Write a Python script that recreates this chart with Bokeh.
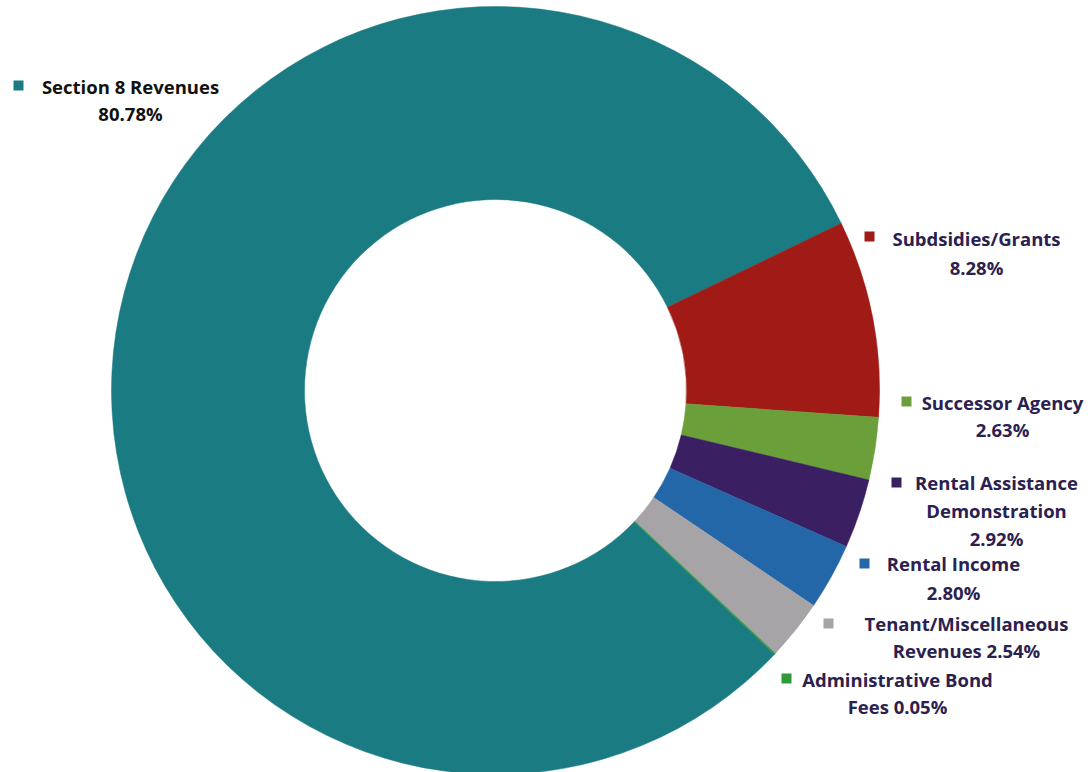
import math
from bokeh.plotting import figure
from bokeh.models import Range1d, ColumnDataSource
from bokeh.core.properties import value
from bokeh.embed import file_html
from bokeh.resources import INLINE

# ---- data ----
categories = ["Section 8 Revenues", "Subsdsidies/Grants", "Successor Agency",
              "Rental Assistance Demonstration", "Rental Income",
              "Tenant/Miscellaneous Revenues", "Administrative Bond Fees"]
shares = [80.78, 8.28, 2.63, 2.92, 2.80, 2.54, 0.05]
colors = ["#1b7b82", "#a01a16", "#6a9f3a", "#3a1f63", "#2467a8", "#a6a4a6", "#2e9a3a"]
label_lines = [
    ["Section 8 Revenues", "80.78%"],
    ["Subdsidies/Grants", "8.28%"],
    ["Successor Agency", "2.63%"],
    ["Rental Assistance", "Demonstration", "2.92%"],
    ["Rental Income", "2.80%"],
    ["Tenant/Miscellaneous", "Revenues 2.54%"],
    ["Administrative Bond", "Fees 0.05%"],
]

# ---- layout (pixel-like coordinates) ----
W, H = 1088, 772
cx, cy = 495, 390
r_out, r_in = 384, 191
subsidies_start_deg = 25.8

# label anchors: marker (x, y), text center x, first line y, line spacing
label_pos = [
    (18, 85, 130, 86, 27),
    (869, 236, 976, 238, 29),
    (906, 401, 1002, 402, 27),
    (896, 482, 996, 482, 28),
    (864, 563, 953, 563, 29),
    (828, 623, 966, 623, 27),
    (786, 678, 897, 679, 27),
]
text_colors = ["#111111"] + ["#2b2150"] * 6

p = figure(width=W, height=H, x_range=Range1d(0, W), y_range=Range1d(H, 0),
           output_backend="svg", toolbar_location=None, min_border=0)
p.axis.visible = False
p.grid.visible = False
p.outline_line_color = None
p.background_fill_color = "white"
p.border_fill_color = "white"

total = sum(shares)
angles = [s / total * 2 * math.pi for s in shares]
# clockwise; Section 8 ends where Subsidies starts
start0 = math.radians(subsidies_start_deg) + angles[0]
starts, ends = [], []
cur = start0
for a in angles:
    starts.append(cur)
    ends.append(cur - a)
    cur -= a

src = ColumnDataSource(dict(start=starts, end=ends, color=colors))
p.annular_wedge(x=cx, y=cy, inner_radius=r_in, outer_radius=r_out,
                start_angle="start", end_angle="end", direction="clock",
                fill_color="color", line_color="color", line_width=0.5,
                source=src)

# labels
for i, lines in enumerate(label_lines):
    mx, my, tx, ty, dy = label_pos[i]
    p.scatter([mx], [my], marker="square", size=10, fill_color=colors[i],
              line_color=None)
    xs = [tx] * len(lines)
    ys = [ty + k * dy for k in range(len(lines))]
    p.text(xs, ys, text=lines, text_font=value("Open Sans"), text_font_style="bold",
           text_font_size="18.5px", text_color=text_colors[i],
           text_align="center", text_baseline="middle")

open("out.html", "w").write(file_html(p, INLINE))
